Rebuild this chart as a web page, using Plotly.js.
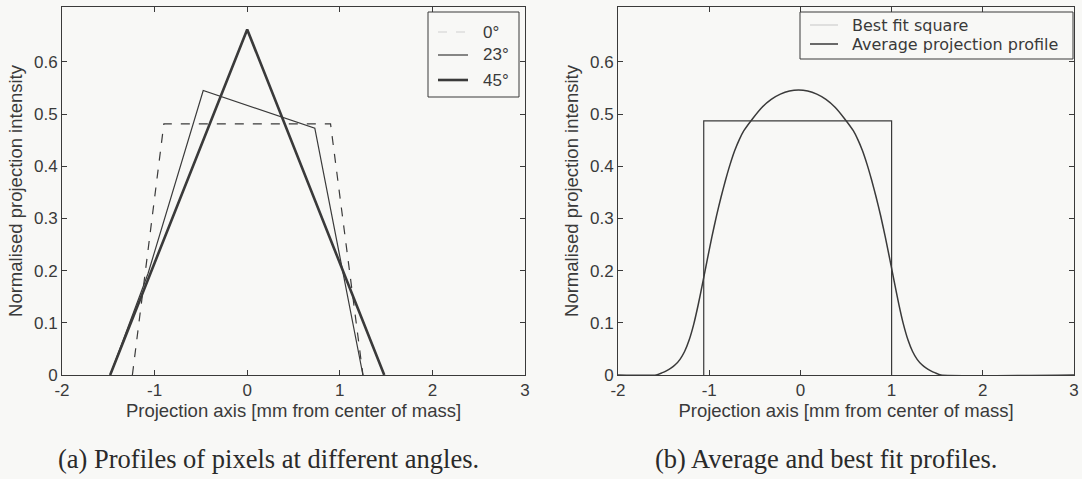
<!DOCTYPE html>
<html>
<head>
<meta charset="utf-8">
<script src="https://cdn.plot.ly/plotly-3.0.1.min.js"></script>
<style>
  html, body { margin: 0; padding: 0; background: #f8f8f6; }
  #fig { width: 1082px; height: 479px; }
</style>
</head>
<body>
<div id="fig"></div>
<script>
// Projection profiles of a single pixel at three rotation angles
const angleNames = ['0°', '23°', '45°'];
const profile0X = [-1.24, -0.9, 0.9, 1.25];
const profile0Y = [0, 0.481, 0.481, 0];
const profile23X = [-1.48, -1.07, -0.475, 0.73, 1.25];
const profile23Y = [0, 0.195, 0.545, 0.473, 0];
const profile45X = [-1.48, 0, 1.48];
const profile45Y = [0, 0.662, 0];

// Average profile over all angles and the square that fits it best
const fitNames = ['Best fit square', 'Average projection profile'];
const squareX = [-1.06, -1.06, 1.0, 1.0];
const squareY = [0, 0.487, 0.487, 0];
const avgX = [-2.0,
  -1.58, -1.52, -1.47, -1.42, -1.37, -1.32, -1.27, -1.22, -1.17, -1.12, -1.07, -1.02, -0.97,
  -0.92, -0.87, -0.82, -0.77, -0.72, -0.67, -0.62, -0.52, -0.42, -0.32, -0.22, -0.12, -0.02,
  0.08, 0.18, 0.28, 0.38, 0.48, 0.58, 0.63, 0.68, 0.73, 0.78, 0.83, 0.88, 0.93,
  0.98, 1.03, 1.08, 1.13, 1.18, 1.23, 1.28, 1.33, 1.38, 1.43, 1.48, 1.54,
  3.0];
const avgY = [0,
  0, 0.004, 0.008, 0.013, 0.020, 0.030, 0.045, 0.067, 0.097, 0.135, 0.178, 0.222, 0.265,
  0.305, 0.341, 0.374, 0.404, 0.430, 0.451, 0.468, 0.492, 0.513, 0.528, 0.538, 0.544, 0.546,
  0.544, 0.538, 0.528, 0.513, 0.492, 0.468, 0.451, 0.430, 0.404, 0.374, 0.341, 0.305, 0.265,
  0.222, 0.178, 0.135, 0.097, 0.067, 0.045, 0.030, 0.020, 0.013, 0.008, 0.004, 0,
  0];

// Axis ticks and texts
const xTicks = [-2, -1, 0, 1, 2, 3];
const xTickText = ['-2', '-1', '0', '1', '2', '3'];
const yTicks = [0, 0.1, 0.2, 0.3, 0.4, 0.5, 0.6];
const yTickText = ['0', '0.1', '0.2', '0.3', '0.4', '0.5', '0.6'];
const xTitle = 'Projection axis [mm from center of mass]';
const yTitle = 'Normalised projection intensity';
const captions = ['(a) Profiles of pixels at different angles.', '(b) Average and best fit profiles.'];

const W = 1082, H = 479;
const ink = '#3a3a3a';
const bg = '#f8f8f6';
const sans = 'Liberation Sans, Arial, sans-serif';
const wideSans = 'DejaVu Sans, Verdana, sans-serif';
const serif = 'Liberation Serif, Times New Roman, serif';
const px = v => v / W;
const py = v => 1 - v / H;

const angleStyles = [
  { width: 1.2, dash: 'dash' },
  { width: 1.2, dash: 'solid' },
  { width: 2.6, dash: 'solid' }
];
const fitStyles = [
  { width: 1.2, dash: 'solid' },
  { width: 1.5, dash: 'solid' }
];

const angleX = [profile0X, profile23X, profile45X];
const angleY = [profile0Y, profile23Y, profile45Y];
const traces = angleNames.map((name, i) => ({
  type: 'scatter', mode: 'lines', name,
  x: angleX[i], y: angleY[i], xaxis: 'x', yaxis: 'y',
  line: { color: ink, width: angleStyles[i].width, dash: angleStyles[i].dash },
  showlegend: false, hoverinfo: 'skip'
}));
traces.push({
  type: 'scatter', mode: 'lines', name: fitNames[0],
  x: squareX, y: squareY, xaxis: 'x2', yaxis: 'y2',
  line: { color: ink, width: fitStyles[0].width },
  showlegend: false, hoverinfo: 'skip'
});
traces.push({
  type: 'scatter', mode: 'lines', name: fitNames[1],
  x: avgX, y: avgY, xaxis: 'x2', yaxis: 'y2',
  line: { color: ink, width: fitStyles[1].width, shape: 'spline', smoothing: 0.5 },
  showlegend: false, hoverinfo: 'skip'
});

function xAxis(domain, anchor) {
  return {
    domain, anchor, range: [-2, 3],
    tickvals: xTicks, ticktext: xTickText, ticklabeloverflow: 'allow',
    ticks: 'inside', ticklen: 5, tickcolor: ink,
    showline: true, linecolor: ink, linewidth: 1, mirror: 'ticks',
    showgrid: false, zeroline: false,
    tickfont: { family: sans, size: 17, color: ink },
    title: { text: xTitle, font: { family: sans, size: 18.5, color: ink }, standoff: 4 }
  };
}
function yAxis(domain, anchor) {
  return {
    domain, anchor, range: [0, 0.705],
    tickvals: yTicks, ticktext: yTickText,
    ticks: 'inside', ticklen: 5, tickcolor: ink,
    showline: true, linecolor: ink, linewidth: 1, mirror: 'ticks',
    showgrid: false, zeroline: false,
    tickfont: { family: sans, size: 17, color: ink },
    title: { text: yTitle, font: { family: sans, size: 18.5, color: ink }, standoff: 6 }
  };
}

const plotTop = 7, plotBottom = 375;
const yDom = [py(plotBottom), py(plotTop)];

// Hand-laid legends: box, line samples and labels
const shapes = [];
const annotations = [];
function legendBlock(box, rows, sampleX, textX, names, styles, font, faint) {
  shapes.push({ type: 'rect', xref: 'paper', yref: 'paper',
    x0: px(box[0]), x1: px(box[1]), y0: py(box[3]), y1: py(box[2]),
    line: { color: ink, width: 1 }, fillcolor: bg, layer: 'above' });
  names.forEach((name, i) => {
    shapes.push({ type: 'line', xref: 'paper', yref: 'paper',
      x0: px(sampleX[0]), x1: px(sampleX[1]), y0: py(rows[i]), y1: py(rows[i]),
      line: { color: faint[i] ? '#cfcfcf' : ink, width: styles[i].width, dash: styles[i].dash }, layer: 'above' });
    annotations.push({ xref: 'paper', yref: 'paper', x: px(textX), y: py(rows[i]),
      xanchor: 'left', yanchor: 'middle', showarrow: false, text: name, font });
  });
}
legendBlock([428, 519, 12, 97], [32, 55, 80], [438, 468], 481, angleNames, angleStyles,
  { family: sans, size: 17, color: ink }, [true, false, false]);
legendBlock([800, 1073, 12, 59], [25, 44], [810, 838], 850, fitNames, fitStyles,
  { family: wideSans, size: 16, color: ink }, [true, false]);

// Sub-figure captions
annotations.push({ xref: 'paper', yref: 'paper', x: px(268), y: py(459), xanchor: 'center', yanchor: 'middle',
  showarrow: false, text: captions[0], font: { family: serif, size: 26.5, color: '#2a2a2a' } });
annotations.push({ xref: 'paper', yref: 'paper', x: px(826), y: py(459), xanchor: 'center', yanchor: 'middle',
  showarrow: false, text: captions[1], font: { family: serif, size: 26.5, color: '#2a2a2a' } });

const layout = {
  width: W, height: H,
  margin: { l: 0, r: 0, t: 0, b: 0 },
  paper_bgcolor: bg, plot_bgcolor: bg,
  showlegend: false,
  xaxis: xAxis([px(62), px(525)], 'y'),
  yaxis: yAxis(yDom, 'x'),
  xaxis2: xAxis([px(618), px(1074)], 'y2'),
  yaxis2: yAxis(yDom, 'x2'),
  shapes, annotations
};

Plotly.newPlot('fig', traces, layout, { staticPlot: true, displayModeBar: false });
</script>
</body>
</html>
